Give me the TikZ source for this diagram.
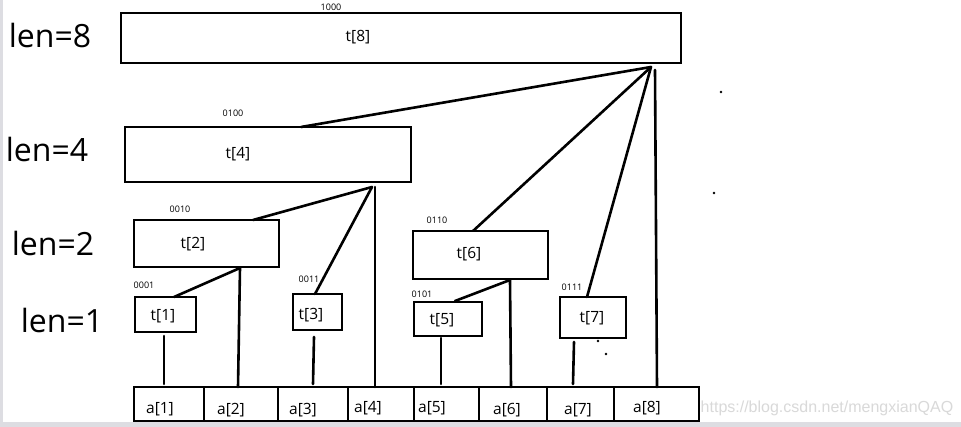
\documentclass[tikz,border=0pt]{standalone}
\usepackage{fontspec}
\setmainfont{Open Sans}
\newfontfamily\wmfont{Liberation Sans}
\begin{document}
\begin{tikzpicture}[x=1pt,y=-1pt,
  tbox/.style={draw,line width=2.8pt,inner sep=0pt,minimum width=#1},
  cell/.style={draw,line width=2.8pt,inner sep=0pt,minimum height=34pt,minimum width=#1},
  lvl/.style={font=\fontsize{32}{34}\selectfont,inner sep=0pt},
  tlab/.style={font=\fontsize{15.5}{17}\selectfont,inner sep=0pt},
  alab/.style={font=\fontsize{15.5}{17}\selectfont,inner sep=0pt},
  bits/.style={font=\fontsize{9}{10}\selectfont,inner sep=0pt},
  wire/.style={line width=2.6pt,line cap=round},
  dotmark/.style={fill=black,circle,inner sep=0pt,minimum size=2.8pt}]
\useasboundingbox (0,0) rectangle (961,427);
\fill[white] (0,0) rectangle (961,427);
\fill[blue!8!gray!25] (0,0) rectangle (3,427);
\fill[blue!8!gray!25] (0,422) rectangle (961,427);
% level labels
\node[lvl] (l8) at (50,36) {len=8};
\node[lvl] (l4) at (47,150) {len=4};
\node[lvl] (l2) at (53,244) {len=2};
\node[lvl] (l1) at (62,321) {len=1};
% boxes
\node[tbox=560pt,minimum height=50pt] (t8) at (401,38) {};
\node[tbox=286pt,minimum height=55pt] (t4) at (268,154.5) {};
\node[tbox=145pt,minimum height=47pt] (t2) at (206.5,243.5) {};
\node[tbox=61pt,minimum height=35pt] (t1) at (165.5,314.5) {};
\node[tbox=49pt,minimum height=36pt] (t3) at (317.5,312) {};
\node[tbox=135pt,minimum height=48pt] (t6) at (480.5,255) {};
\node[tbox=68pt,minimum height=34pt] (t5) at (448,319) {};
\node[tbox=66pt,minimum height=41pt] (t7) at (593,317.5) {};
% box texts
\node[tlab] (n8) at (358,37) {t[8]};
\node[tlab] (n4) at (238,154) {t[4]};
\node[tlab] (n2) at (193,244) {t[2]};
\node[tlab] (n1) at (163,316) {t[1]};
\node[tlab] (n3) at (311,315) {t[3]};
\node[tlab] (n6) at (469,254) {t[6]};
\node[tlab] (n5) at (442,320) {t[5]};
\node[tlab] (n7) at (592,318) {t[7]};
% binary labels
\node[bits] (b8) at (331,7) {1000};
\node[bits] (b4) at (233,113) {0100};
\node[bits] (b2) at (180,209) {0010};
\node[bits] (b1) at (144,285) {0001};
\node[bits] (b3) at (309,279) {0011};
\node[bits] (b6) at (437,220) {0110};
\node[bits] (b5) at (422,294) {0101};
\node[bits] (b7) at (572,287) {0111};
% array cells
\node[cell=70pt] (a1) at (169,404) {};
\node[cell=74pt] (a2) at (241,404) {};
\node[cell=70pt] (a3) at (313,404) {};
\node[cell=66pt] (a4) at (381,404) {};
\node[cell=65pt] (a5) at (446.5,404) {};
\node[cell=68pt] (a6) at (513,404) {};
\node[cell=67pt] (a7) at (580.5,404) {};
\node[cell=85pt] (a8) at (656.5,404) {};
\node[alab] (c1) at (160,409) {a[1]};
\node[alab] (c2) at (231,410) {a[2]};
\node[alab] (c3) at (303,410) {a[3]};
\node[alab] (c4) at (368,408) {a[4]};
\node[alab] (c5) at (432,408) {a[5]};
\node[alab] (c6) at (507,410) {a[6]};
\node[alab] (c7) at (578,410) {a[7]};
\node[alab] (c8) at (647,408) {a[8]};
% attachment points
\coordinate (f8) at (651,67);
\coordinate (f8v) at (655,70);
\coordinate (t4top) at (301,127);
\coordinate (t6top) at (473,231);
\coordinate (t7top) at (587,297);
\coordinate (a8top) at (657,387);
\coordinate (f4) at (372,187);
\coordinate (f4v) at (375,187);
\coordinate (t2top) at (253,220);
\coordinate (t3top) at (315,294);
\coordinate (a4top) at (375,387);
\coordinate (f2) at (240,268);
\coordinate (t1top) at (174,297);
\coordinate (a2top) at (238,387);
\coordinate (f1) at (164,336);
\coordinate (a1top) at (164,384);
\coordinate (f3) at (314,337);
\coordinate (a3top) at (313,384);
\coordinate (f6) at (510,280);
\coordinate (t5top) at (455,301);
\coordinate (a6top) at (511,387);
\coordinate (f5) at (441,338);
\coordinate (a5top) at (441,384);
\coordinate (f7) at (574,342);
\coordinate (a7top) at (573,384);
% connectors
\draw[wire] (f8) -- (t4top);
\draw[wire] (f8) -- (t6top);
\draw[wire] (f8) -- (t7top);
\draw[wire] (f8v) -- (a8top);
\draw[wire] (f4) -- (t2top);
\draw[wire] (f4) -- (t3top);
\draw[wire] (f4v) -- (a4top);
\draw[wire] (f2) -- (t1top);
\draw[wire] (f2) -- (a2top);
\draw[wire] (f1) -- (a1top);
\draw[wire] (f3) -- (a3top);
\draw[wire] (f6) -- (t5top);
\draw[wire] (f6) -- (a6top);
\draw[wire] (f5) -- (a5top);
\draw[wire] (f7) -- (a7top);
% stray dots
\node[dotmark] (d1) at (721,92) {};
\node[dotmark] (d2) at (714,193) {};
\node[dotmark] (d3) at (598,341) {};
\node[dotmark] (d4) at (606,354) {};
% watermark
\node[font=\wmfont\fontsize{16}{18}\selectfont,text=gray!30,inner sep=0pt] (wm) at (827,408) {https://blog.csdn.net/mengxianQAQ};
\end{tikzpicture}
\end{document}
